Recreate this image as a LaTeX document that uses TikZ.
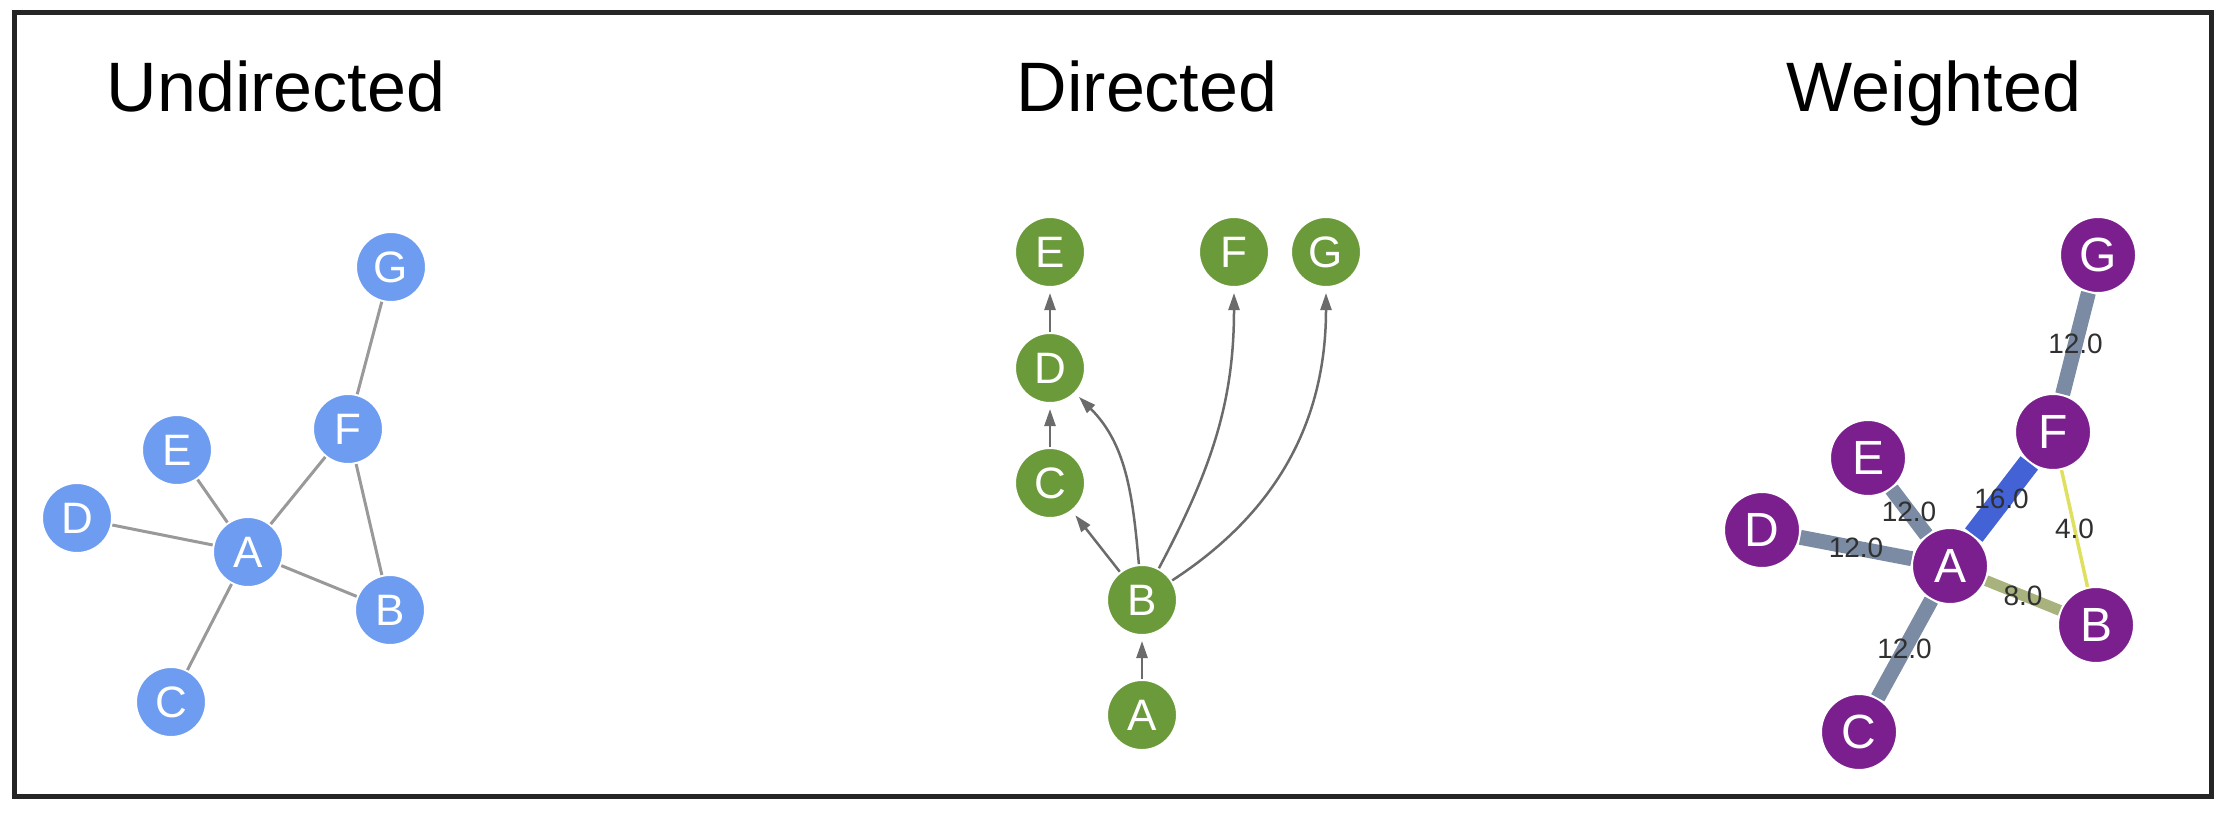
\documentclass[tikz,border=0pt]{standalone}
\usepackage{fontspec}
\setmainfont{Liberation Sans}
\usetikzlibrary{arrows.meta}
\definecolor{framegray}{HTML}{252525}
\definecolor{ublue}{HTML}{6D9CF0}
\definecolor{dgreen}{HTML}{6B9A3A}
\definecolor{wpurple}{HTML}{7B1F8E}
\definecolor{wgray}{HTML}{7A8BA3}
\definecolor{wblue}{HTML}{4262D6}
\definecolor{wolive}{HTML}{A8B27C}
\definecolor{wyellow}{HTML}{E0E060}
\definecolor{labelgray}{HTML}{303030}
\begin{document}
\begin{tikzpicture}[x=1pt,y=1pt,>={Triangle[length=17pt,width=11pt]},
	heading/.style={anchor=base,font=\fontsize{70}{84}\selectfont},
	vertex/.style={circle,draw=white,line width=2pt,text=white,inner sep=0pt},
	unode/.style={vertex,fill=ublue,minimum size=70pt,font=\fontsize{44}{50}\selectfont},
	dnode/.style={vertex,fill=dgreen,minimum size=70pt,font=\fontsize{44}{50}\selectfont},
	wnode/.style={vertex,fill=wpurple,minimum size=76pt,font=\fontsize{48}{54}\selectfont},
	uedge/.style={draw=black!40,line width=3pt},
	dedge/.style={->,draw=black!58,line width=2.5pt,shorten >=5pt},
	wlabel/.style={pos=0.5,text=labelgray,font=\fontsize{28}{32}\selectfont}]
		\useasboundingbox (0,0) rectangle (2234,-812);
		\draw[framegray,line width=5pt] (14.5,-12) rectangle (2211.5,-796.5);
		\node[heading] (tu) at (276,-111) {Undirected};
		\node[heading] (td) at (1147,-111) {Directed};
		\node[heading] (tw) at (1934,-111) {Weighted};
		% undirected
		\node[unode] (uG) at (391,-267) {G};
		\node[unode] (uF) at (348,-429) {F};
		\node[unode] (uE) at (177,-450) {E};
		\node[unode] (uD) at (77,-518) {D};
		\node[unode] (uA) at (248,-552) {A};
		\node[unode] (uB) at (390,-610) {B};
		\node[unode] (uC) at (171,-702) {C};
		\draw[uedge] (uA)--(uD) (uA)--(uE) (uA)--(uF) (uA)--(uB) (uA)--(uC);
		\draw[uedge] (uF)--(uG) (uF)--(uB);
		% directed
		\node[dnode] (dE) at (1050,-252) {E};
		\node[dnode] (dF) at (1234,-252) {F};
		\node[dnode] (dG) at (1326,-252) {G};
		\node[dnode] (dD) at (1050,-368) {D};
		\node[dnode] (dC) at (1050,-483) {C};
		\node[dnode] (dB) at (1142,-600) {B};
		\node[dnode] (dA) at (1142,-715) {A};
		\draw[dedge] (dA)--(dB);
		\draw[dedge] (dB)--(dC);
		\draw[dedge] (dC)--(dD);
		\draw[dedge] (dD)--(dE);
		\draw[dedge] (dB) to[out=95,in=-45] (dD);
		\draw[dedge] (dB) to[out=62,in=-90] (dF);
		\draw[dedge] (dB) to[out=33,in=-90] (dG);
		% weighted
		\node[wnode] (wG) at (2098,-255) {G};
		\node[wnode] (wF) at (2053,-432) {F};
		\node[wnode] (wE) at (1868,-458) {E};
		\node[wnode] (wD) at (1762,-530) {D};
		\node[wnode] (wA) at (1950,-566) {A};
		\node[wnode] (wB) at (2096,-625) {B};
		\node[wnode] (wC) at (1859,-732) {C};
		\draw[wgray,line width=15pt] (wG)--(wF) node[wlabel] {12.0};
		\draw[wgray,line width=15pt] (wE)--(wA) node[wlabel] {12.0};
		\draw[wgray,line width=15pt] (wD)--(wA) node[wlabel] {12.0};
		\draw[wgray,line width=15pt] (wA)--(wC) node[wlabel] {12.0};
		\draw[wblue,line width=22pt] (wA)--(wF) node[wlabel] {16.0};
		\draw[wolive,line width=11pt] (wA)--(wB) node[wlabel] {8.0};
		\draw[wyellow,line width=3.5pt] (wF)--(wB) node[wlabel] {4.0};
	\end{tikzpicture}
\end{document}
